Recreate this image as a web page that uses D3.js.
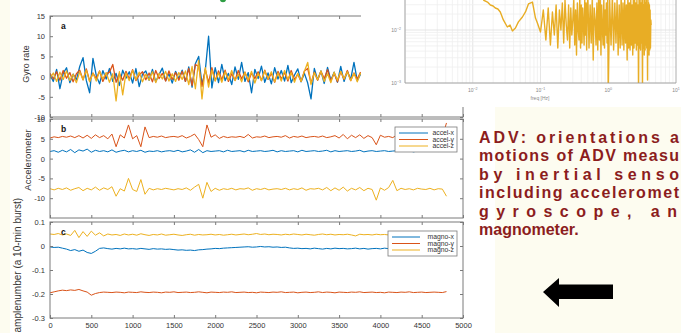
<!DOCTYPE html>
<html>
<head>
<meta charset="utf-8">
<script src="https://cdn.jsdelivr.net/npm/d3@7"></script>
<style>
  body { margin: 0; background: #fdfcf0; }
  svg { display: block; font-family: "Liberation Sans", Arial, sans-serif; }
</style>
</head>
<body>
<svg id="chart" width="681" height="333"></svg>
<script>
// ---- data ----
// sample axis: gyro every 40 samples, accel / magno every 50 samples
const gyroStep = 40;
const sensorStep = 50;
const xTicks = [0, 500, 1000, 1500, 2000, 2500, 3000, 3500, 4000, 4500, 5000];

const gyroX = [0.5,-1.2,1.8,-3,0.8,2.2,-1.5,0.6,-0.8,2.5,
  4.7,-1.0,-4,4.5,0.3,-1.8,1.5,-0.6,2.0,-1.2,
  0.8,-2.2,1.6,-0.4,1.2,-1.6,2.0,-2.5,0.6,1.4,
  -0.9,1.8,-1.3,0.5,2.1,-1.0,0.7,-1.6,1.3,-0.5,
  1.6,-1.2,2.4,-2.6,3.2,5.0,-2.0,1.5,10.0,-2.8,
  2.2,-1.5,3.0,-1.0,0.8,-2.0,2.4,-0.7,3.5,-1.2,
  1.0,-4.0,1.8,-0.5,2.6,-1.4,0.9,-1.8,2.2,-0.6,
  1.5,-1.1,2.8,-1.5,0.4,1.9,-1.3,0.8,-1.6,-5.5,
  2.0,-0.8,1.4,-1.7,2.3,-0.9,1.1,-1.4,2.5,-1.2,
  1.3,-0.7,3.5,-1.0,0.6];
const gyroY = [0.8,-0.6,1.2,-0.9,1.5,-0.4,1.0,-1.3,0.7,1.6,
  -0.8,1.9,-1.1,0.9,-0.5,1.4,-1.2,0.6,1.1,3.0,
  -1.4,0.8,-0.9,1.3,-0.6,1.7,-1.0,0.4,1.2,-0.8,
  0.9,-1.3,1.5,-0.5,0.8,-1.1,1.4,-0.7,1.0,-0.9,
  1.3,-1.2,2.0,-2.2,3.0,2.5,-2.5,1.8,-1.5,2.2,
  -1.0,1.4,-0.8,1.6,-1.2,0.7,-0.9,1.5,-0.6,1.1,
  -1.3,0.9,-0.5,1.2,-1.0,1.6,-0.7,0.8,-1.4,1.3,
  -0.6,1.0,-1.1,1.5,-0.8,0.6,-1.2,1.4,2.0,-1.6,
  1.1,-0.9,1.3,-0.5,1.7,-1.1,0.8,-1.3,1.2,-0.7,
  1.5,-1.0,0.9,-0.6,1.1];
const gyroZ = [-0.5,0.9,-1.2,1.1,-0.7,1.4,-1.0,0.6,-1.5,1.2,
  -0.8,1.6,-1.3,0.8,-1.1,1.3,-0.6,1.0,-1.4,0.7,
  -6.0,1.2,-4.5,0.9,-1.0,1.5,-0.8,1.1,-1.3,0.6,
  -0.9,1.2,-1.5,0.8,-0.6,1.3,-1.1,0.7,-1.2,1.0,
  -0.7,1.4,-2.0,2.5,-3.0,4.0,-5.5,2.2,-2.6,1.6,
  -1.1,0.9,-1.4,1.2,-0.8,1.5,-1.0,0.6,-1.3,1.1,
  -0.9,1.3,-1.6,0.8,-1.0,1.4,-0.6,1.2,-1.3,0.9,
  -1.1,1.5,-0.7,1.0,-1.4,0.8,-1.2,1.3,3.5,-2.0,
  1.0,-0.8,1.4,-1.2,0.7,-1.5,1.1,-0.9,1.3,-0.6,
  1.2,-1.0,0.8,-1.3,0.9];

const accelX = [1.8,2.0,1.6,2.1,1.7,2.3,1.5,2.2,1.9,2.4,
  1.6,2.1,1.8,2.0,1.7,2.2,1.6,1.9,2.1,1.7,
  2.0,1.8,2.1,1.6,1.9,1.8,2.0,1.7,1.9,2.0,
  1.8,2.1,1.7,1.9,2.2,1.6,2.3,1.5,2.0,1.8,
  1.9,2.0,1.7,2.1,1.8,1.9,2.0,1.7,2.1,1.8,
  1.9,2.0,1.8,1.9,2.1,1.7,2.0,1.8,1.9,2.0,
  1.7,2.1,1.8,1.9,2.0,1.8,1.9,2.1,1.7,2.0,
  1.8,1.9,2.0,1.8,1.9,2.1,1.7,1.9,2.0,1.8,
  1.9,2.0,1.8,1.9,2.0,1.8,1.9,2.0,1.7,1.9,
  2.0,1.8,1.9,2.0,1.8,1.9,1.9];
const accelY = [5.2,5.5,5.3,5.6,5.4,5.7,5.3,5.8,5.2,5.9,
  5.1,6.0,5.3,5.8,5.0,6.2,3.0,6.0,5.2,8.5,
  5.0,5.8,3.0,8.0,5.3,5.6,5.4,5.7,5.3,5.5,
  5.6,5.4,5.8,5.2,5.6,6.2,4.8,3.0,8.5,5.4,
  6.0,5.1,5.6,5.3,5.5,5.4,5.6,5.3,6.1,5.2,
  5.5,5.4,5.7,5.3,5.5,5.6,5.4,5.8,5.2,5.6,
  5.4,5.7,5.3,5.5,5.6,5.4,5.7,5.3,5.5,5.8,
  5.2,6.1,5.0,5.9,5.3,6.0,5.1,5.8,5.3,3.5,
  5.9,5.4,5.6,5.3,6.0,5.2,5.5,5.4,5.6,5.3,
  5.7,5.4,5.5,5.6,5.4,5.5,9.0];
const accelZ = [-7.6,-7.9,-7.5,-7.8,-7.4,-8.0,-7.6,-7.3,-8.1,-7.5,
  -7.9,-7.2,-8.0,-7.4,-7.8,-7.1,-9.5,-7.6,-8.2,-5.0,
  -7.8,-8.3,-5.3,-9.0,-7.5,-7.9,-7.6,-7.8,-7.5,-7.7,
  -7.9,-7.6,-7.8,-7.4,-8.0,-7.2,-6.5,-10.0,-6.0,-8.3,
  -7.5,-8.0,-7.6,-7.8,-7.5,-7.9,-7.6,-7.7,-7.4,-8.0,
  -7.6,-7.8,-7.5,-7.9,-7.7,-7.6,-7.8,-7.5,-7.9,-7.6,
  -7.8,-7.4,-8.0,-7.6,-7.7,-7.5,-7.9,-7.3,-8.1,-7.4,
  -8.0,-7.2,-8.2,-7.5,-7.9,-7.3,-8.1,-7.5,-7.8,-10.5,
  -7.4,-8.0,-7.3,-5.5,-8.1,-7.5,-7.8,-7.6,-7.9,-7.5,
  -7.7,-7.8,-7.5,-7.9,-7.6,-7.7,-9.5];

const magnoX = [-0.004,-0.006,-0.005,-0.009,-0.013,-0.019,-0.015,-0.022,-0.017,-0.027,
  -0.031,-0.022,-0.010,-0.008,
  -0.011,-0.013,-0.010,-0.012,-0.009,-0.012,-0.011,-0.013,-0.010,-0.012,-0.014,-0.011,-0.013,-0.012,-0.014,-0.013,
  -0.015,-0.017,-0.016,-0.018,-0.017,-0.019,-0.016,-0.015,
  -0.013,-0.012,-0.010,-0.011,-0.009,-0.008,-0.007,-0.006,
  -0.005,-0.004,-0.003,-0.005,-0.004,-0.002,-0.004,-0.003,-0.005,-0.004,-0.006,-0.005,
  -0.008,-0.010,-0.009,-0.011,-0.010,-0.012,-0.009,-0.011,-0.013,-0.010,
  -0.012,-0.009,-0.011,-0.010,-0.012,-0.011,-0.009,-0.012,-0.010,-0.013,
  -0.011,-0.010,-0.012,-0.009,-0.011,-0.010,-0.012,-0.011,-0.013,-0.010,
  -0.012,-0.011,-0.009,-0.012,-0.010,-0.011,-0.012,-0.010,-0.011];
const magnoY = [-0.195,-0.191,-0.187,-0.184,-0.186,-0.183,-0.185,-0.181,-0.187,-0.192,
  -0.205,-0.198,-0.194,-0.192,
  -0.193,-0.194,-0.192,-0.193,-0.195,-0.192,-0.193,-0.194,-0.191,-0.193,
  -0.194,-0.192,-0.193,-0.195,-0.192,-0.193,-0.191,-0.194,-0.193,-0.192,
  -0.194,-0.193,-0.191,-0.193,-0.195,-0.192,-0.193,-0.194,-0.192,-0.193,
  -0.191,-0.194,-0.193,-0.192,-0.194,-0.193,-0.195,-0.192,-0.193,-0.194,
  -0.192,-0.193,-0.191,-0.194,-0.193,-0.192,-0.195,-0.193,-0.192,-0.194,
  -0.193,-0.191,-0.194,-0.192,-0.193,-0.195,-0.192,-0.193,-0.194,-0.192,
  -0.193,-0.191,-0.194,-0.193,-0.192,-0.194,-0.193,-0.195,-0.192,-0.193,
  -0.194,-0.192,-0.193,-0.191,-0.194,-0.193,-0.192,-0.194,-0.193,-0.192,
  -0.193,-0.194,-0.190];
const magnoZ = [0.050,0.048,0.052,0.046,0.050,0.044,0.065,0.035,0.060,0.040,
  0.062,0.045,0.055,0.042,0.050,0.046,0.048,0.044,0.050,0.046,
  0.049,0.045,0.051,0.047,0.044,0.048,0.046,0.050,0.045,0.047,
  0.049,0.046,0.044,0.047,0.049,0.045,0.048,0.046,0.047,0.049,
  0.046,0.048,0.045,0.047,0.049,0.046,0.048,0.050,0.047,0.049,
  0.052,0.048,0.050,0.047,0.049,0.048,0.046,0.049,0.047,0.050,
  0.048,0.046,0.049,0.047,0.045,0.048,0.050,0.047,0.049,0.046,
  0.048,0.047,0.049,0.046,0.042,0.049,0.047,0.048,0.046,0.049,
  0.047,0.048,0.046,0.049,0.047,0.048,0.046,0.048,0.047,0.049,
  0.048,0.046,0.048,0.047,0.049,0.047,0.048];

// spectrum inset (top right): frequency [Hz] and power
const specFreq = [0.0143,0.0165,0.0182,0.0200,0.0215,0.0235,0.0255,0.0283,0.0324,0.0355,
  0.0385,0.0427,0.0472,0.0541,0.0600,0.0664,0.0761,0.0843,
  0.09,0.10,0.11,0.12,0.13,0.14,0.15,0.16,0.17,0.18,0.19,0.20,
  0.21,0.22,0.23,0.24,0.25,0.26,0.27,0.28,0.29,0.30,
  0.31,0.32,0.33,0.34,0.35,0.36,0.37,0.38,0.39,0.40,
  0.41,0.42,0.43,0.44,0.45,0.46,0.47,0.48,0.49,0.50,
  0.52,0.54,0.56,0.58,0.60,0.62,0.64,0.66,0.68,0.70,
  0.72,0.74,0.76,0.78,0.80,0.82,0.84,0.86,0.88,0.90,
  0.92,0.94,0.96,0.98,1.00,
  1.05,1.10,1.15,1.20,1.25,1.30,1.35,1.40,1.45,1.50,
  1.55,1.60,1.65,1.70,1.75,1.80,1.85,1.90,1.95,2.00,
  2.05,2.10,2.15,2.20,2.25,2.30,2.35,2.40,2.45,2.50,
  2.55,2.60,2.65,2.70,2.75,2.80,2.85,2.90,2.95,3.00,
  3.05,3.10,3.15,3.20,3.25,3.30,3.35,3.40,3.45,3.50,
  3.55,3.60,3.65,3.70,3.75,3.80,3.85,3.90,3.95,4.00,
  4.05,4.10,4.15,4.20,4.25,4.30];
const specPsd = [0.0368,0.0337,0.0296,0.0284,0.0260,0.0249,0.0219,0.0155,0.0114,0.0124,
  0.0096,0.0109,0.0142,0.0176,0.0219,0.0310,0.0337,0.0168,
  0.0136,0.00917,0.0238,0.00648,0.0260,0.00521,0.0219,0.00805,0.0296,0.00457,0.0238,0.0100,
  0.0323,0.00569,0.0368,0.0124,0.00648,0.0296,0.00457,0.0260,0.00805,0.0155,
  0.0368,0.00521,0.0238,0.00338,0.0323,0.0100,0.00648,0.0457,0.00457,0.0296,
  0.00569,0.0260,0.0124,0.00521,0.0368,0.00805,0.0323,0.00420,0.0238,0.0457,
  0.00457,0.0296,0.00569,0.0368,0.00272,0.0260,0.0155,0.00521,0.0323,0.00420,
  0.0368,0.00648,0.0457,0.00338,0.0296,0.0100,0.00521,0.0368,0.00457,0.0238,
  0.00805,0.0323,0.00569,0.0368,0.0006,
  0.0368,0.00521,0.0457,0.00420,0.0323,0.00569,0.0368,0.00338,0.0296,0.00457,
  0.0457,0.00521,0.0323,0.00420,0.0368,0.00569,0.0296,0.00272,0.0457,0.00457,
  0.0323,0.00420,0.0368,0.00521,0.0296,0.00338,0.0457,0.00457,0.0368,0.00569,
  0.0323,0.00420,0.0368,0.00521,0.0296,0.0006,0.0457,0.00457,0.0368,0.00420,
  0.0323,0.00569,0.0368,0.0006,0.0457,0.00457,0.0296,0.00338,0.0368,0.00420,
  0.0323,0.00521,0.0457,0.00457,0.0296,0.00114,0.0368,0.00420,0.0323,0.00338,
  0.0296,0.00420,0.0238,0.00457,0.0155,0.0124];

const noteLines = ["ADV: orientations a", "motions of ADV measu", "by inertial senso",
  "including acceleromet", "gyroscope, an", "magnometer."];

// ---- drawing ----
const svg = d3.select("#chart");
const colors = ["#0072bd", "#d95319", "#edb120"];
const axisGrey = "#7a7a7a";

svg.append("rect").attr("width", 681).attr("height", 333).attr("fill", "#fdfcf0");
svg.append("rect").attr("x", 10).attr("y", 0).attr("width", 485).attr("height", 333).attr("fill", "#fff");

const x = d3.scaleLinear().domain([0, 5000]).range([50, 463]);

function drawPanel(p) {
  const y = d3.scaleLinear().domain(p.yDomain).range([p.bottom, p.top]);
  const g = svg.append("g");
  const clipId = "clip-" + p.name;
  svg.append("clipPath").attr("id", clipId).append("rect")
    .attr("x", 50).attr("y", p.top).attr("width", 413).attr("height", p.bottom - p.top);

  const lines = g.append("g").attr("clip-path", `url(#${clipId})`);
  p.series.forEach((vals, k) => {
    const line = d3.line().x((d, i) => x(i * p.step)).y(d => y(d));
    lines.append("path").datum(vals)
      .attr("d", line)
      .attr("fill", "none")
      .attr("stroke", colors[k])
      .attr("stroke-width", p.lw)
      .attr("stroke-linejoin", "round");
  });

  const fmt = d => String(d);
  const style = sel => {
    sel.select(".domain").remove();
    sel.selectAll(".tick line").attr("stroke", axisGrey);
    sel.selectAll(".tick text").attr("fill", "#333").attr("font-size", 7.5)
      .attr("font-family", "Liberation Sans, Arial, sans-serif");
  };
  g.append("g").attr("transform", "translate(50,0)")
    .call(d3.axisLeft(y).tickValues(p.yTicks).tickFormat(fmt).tickSizeInner(-3).tickSizeOuter(0).tickPadding(5))
    .call(style);
  g.append("g").attr("transform", "translate(463,0)")
    .call(d3.axisRight(y).tickValues(p.yTicks).tickFormat("").tickSizeInner(-3).tickSizeOuter(0))
    .call(style);
  g.append("g").attr("transform", `translate(0,${p.bottom})`)
    .call(d3.axisBottom(x).tickValues(xTicks).tickFormat(p.xLabels ? fmt : "").tickSizeInner(-3).tickSizeOuter(0).tickPadding(5))
    .call(style);
  g.append("g").attr("transform", `translate(0,${p.top})`)
    .call(d3.axisTop(x).tickValues(xTicks).tickFormat("").tickSizeInner(-3).tickSizeOuter(0))
    .call(style);

  g.append("rect").attr("x", 50).attr("y", p.top).attr("width", 413).attr("height", p.bottom - p.top)
    .attr("fill", "none").attr("stroke", axisGrey).attr("stroke-width", 1);

  g.append("text").attr("x", 61).attr("y", p.top + 13).text(p.name)
    .attr("font-size", 8.5).attr("font-weight", "bold").attr("fill", "#111");

  if (p.legend) {
    const lg = g.append("g").attr("transform", `translate(${p.legend.x},${p.legend.y})`);
    lg.append("rect").attr("width", p.legend.w).attr("height", 25)
      .attr("fill", "#fff").attr("stroke", axisGrey).attr("stroke-width", 0.8);
    p.legend.labels.forEach((lab, k) => {
      const yy = 6 + k * 6.5;
      lg.append("line").attr("x1", 4).attr("x2", p.legend.lineEnd).attr("y1", yy).attr("y2", yy)
        .attr("stroke", colors[k]).attr("stroke-width", 1);
      lg.append("text").attr("x", p.legend.w - 3).attr("y", yy + 2.3).attr("text-anchor", "end")
        .attr("font-size", 6.8).attr("fill", "#333").text(lab);
    });
  }
}

drawPanel({ name: "a", top: 16, bottom: 117, yDomain: [-10, 15], yTicks: [-10, -5, 0, 5, 10, 15],
  step: gyroStep, series: [gyroX, gyroY, gyroZ], lw: 1.3 });
drawPanel({ name: "b", top: 119, bottom: 218, yDomain: [-15, 10], yTicks: [-10, -5, 0, 5, 10],
  step: sensorStep, series: [accelX, accelY, accelZ], lw: 1,
  legend: { x: 395, y: 127, w: 62, lineEnd: 33, labels: ["accel-x", "accel-y", "accel-z"] } });
drawPanel({ name: "c", top: 222, bottom: 318, yDomain: [-0.3, 0.1], yTicks: [-0.3, -0.2, -0.1, 0, 0.1],
  step: sensorStep, series: [magnoX, magnoY, magnoZ], lw: 1, xLabels: true,
  legend: { x: 388, y: 231, w: 69, lineEnd: 32, labels: ["magno-x", "magno-y", "magno-z"] } });

// y labels
const ylab = (txt, cx, cy, size, anchor) => svg.append("text")
  .attr("transform", `translate(${cx},${cy}) rotate(-90)`)
  .attr("text-anchor", anchor).attr("font-size", size).attr("fill", "#333").text(txt);
ylab("Gyro rate", 29, 64, 9, "middle");
ylab("Accelerometer", 31, 160, 9.5, "middle");
ylab("Samplenumber (a 10-min burst)", 21, 198, 10, "end");

// ---- spectrum inset ----
svg.append("rect").attr("x", 361).attr("y", 0).attr("width", 320).attr("height", 107).attr("fill", "#fff");
const fx = d3.scaleLog().domain([1e-3, 10]).range([405, 676]);
const fy = d3.scaleLog().domain([1e-3, 0.5]).range([83, 83 - 53 * Math.log10(500)]);
const sg = svg.append("g");
[1e-3, 1e-2, 1e-1, 1].forEach(d => {
  for (let m = 1; m <= 9; m++) {
    const f = d * m;
    sg.append("line").attr("x1", fx(f)).attr("x2", fx(f)).attr("y1", -60).attr("y2", 83)
      .attr("stroke", m === 1 ? "#dedede" : "#efefef").attr("stroke-width", 0.8);
  }
});
[1e-3, 1e-2, 1e-1].forEach(d => {
  for (let m = 1; m <= 9; m++) {
    const v = d * m;
    sg.append("line").attr("x1", 405).attr("x2", 676).attr("y1", fy(v)).attr("y2", fy(v))
      .attr("stroke", m === 1 ? "#dedede" : "#efefef").attr("stroke-width", 0.8);
  }
});
svg.append("clipPath").attr("id", "clip-spec").append("rect")
  .attr("x", 405).attr("y", -60).attr("width", 271).attr("height", 143);
sg.append("path").datum(d3.zip(specFreq, specPsd))
  .attr("clip-path", "url(#clip-spec)")
  .attr("d", d3.line().x(d => fx(d[0])).y(d => fy(d[1])))
  .attr("fill", "none").attr("stroke", "#e8ad25").attr("stroke-width", 1.4).attr("stroke-linejoin", "round");
sg.append("path").attr("d", "M405,-5V83H676V-5").attr("fill", "none").attr("stroke", "#9a9a9a").attr("stroke-width", 0.8);

const powLabel = (g, px, py, exp, anchor) => {
  const t = g.append("text").attr("x", px).attr("y", py).attr("text-anchor", anchor)
    .attr("font-size", 5).attr("fill", "#888");
  t.append("tspan").text("10");
  t.append("tspan").attr("dy", -2.5).attr("font-size", 3.6).text(exp);
};
[[1e-2, "−2"], [1e-1, "−1"], [1, "0"], [10, "1"]].forEach(([f, e]) => powLabel(sg, fx(f), 92, e, "middle"));
[[1e-2, "−2"], [1e-3, "−3"]].forEach(([v, e]) => powLabel(sg, 401, fy(v) + 2, e, "end"));
sg.append("text").attr("x", 540).attr("y", 100).attr("text-anchor", "middle")
  .attr("font-size", 5).attr("fill", "#888").text("freq [Hz]");

// green mark at top (cut-off title glyph)
svg.append("circle").attr("cx", 223).attr("cy", -1).attr("r", 3.2).attr("fill", "#2e9e44");

// ---- note text ----
const noteLen = [200, 200, 200, 200, 198, null];
noteLines.forEach((txt, i) => {
  const t = svg.append("text").attr("x", 479).attr("y", 143 + i * 18.4)
    .attr("font-size", 16).attr("font-weight", "bold").attr("fill", "#8c1d1d").text(txt);
  if (noteLen[i]) t.attr("textLength", noteLen[i]).attr("lengthAdjust", "spacing");
});

// ---- arrow ----
const defs = svg.append("defs");
defs.append("filter").attr("id", "soft").append("feGaussianBlur").attr("stdDeviation", 0.6);
svg.append("path")
  .attr("d", "M543,292 L559,278 L559,284.5 L613,284.5 L613,299 L559,299 L559,307 Z")
  .attr("fill", "#000").attr("filter", "url(#soft)");
</script>
</body>
</html>
